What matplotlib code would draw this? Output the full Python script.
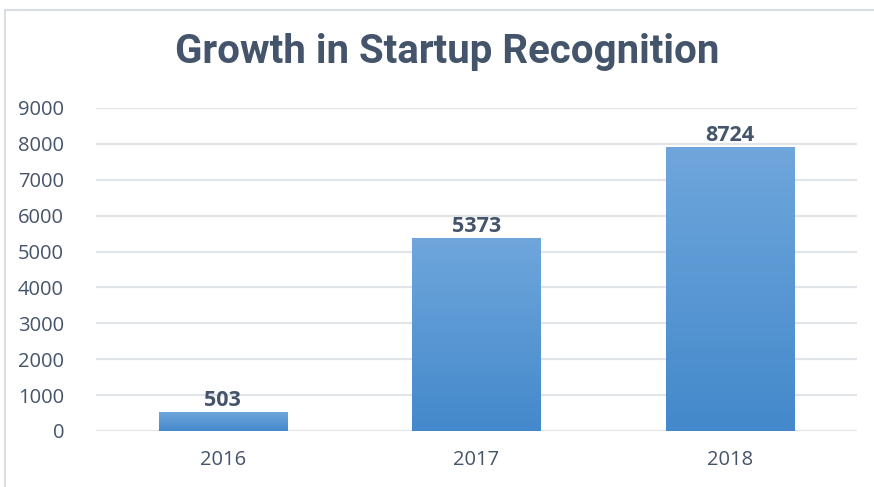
import matplotlib
matplotlib.use("Agg")
import matplotlib.pyplot as plt
import numpy as np
from matplotlib.patches import Rectangle
from matplotlib.colors import LinearSegmentedColormap

years = ["2016", "2017", "2018"]
bar_heights = [520, 5373, 7910]   # heights as drawn in the picture
bar_labels = ["503", "5373", "8724"]  # labels as printed
yticks = [0, 1000, 2000, 3000, 4000, 5000, 6000, 7000, 8000, 9000]

W, H = 874, 487
fig = plt.figure(figsize=(W / 100, H / 100), dpi=100)
fig.patch.set_facecolor("white")

# outer frame
fig.add_artist(Rectangle((5 / W, -0.1), 1.2, (H - 10) / H + 0.1, transform=fig.transFigure,
                         fill=False, edgecolor="#D9DEE6", linewidth=1.5))

ax = fig.add_axes([96 / W, (H - 431) / H, (857 - 96) / W, (431 - 108) / H])
ax.set_xlim(-0.5, 2.5)
ax.set_ylim(0, 9000)
for s in ax.spines.values():
    s.set_visible(False)
ax.set_yticks(yticks)
ax.set_yticklabels([str(v) for v in yticks])
ax.yaxis.grid(True, color="#E1E4E8", linewidth=1.6)
ax.set_axisbelow(True)
ax.tick_params(axis="both", length=0, labelsize=14.5, labelcolor="#44546A")
ax.tick_params(axis="y", pad=23)
ax.tick_params(axis="x", pad=14)
ax.set_xticks(range(len(years)))
ax.set_xticklabels(years)
for lab in ax.get_xticklabels() + ax.get_yticklabels():
    lab.set_fontfamily(["Open Sans", "DejaVu Sans"])

x = np.arange(len(years))
bars = ax.bar(x, bar_heights, width=0.505, color="#5A9BD8", zorder=2)

# gradient fill
grad = np.linspace(0, 1, 256).reshape(-1, 1)
cmap = LinearSegmentedColormap.from_list("g", ["#4389CB", "#6FA6DC"])
for b in bars:
    x0, y0, w, h = b.get_x(), b.get_y(), b.get_width(), b.get_height()
    im = ax.imshow(grad, extent=[x0, x0 + w, y0, y0 + h], origin="lower", aspect="auto",
                   cmap=cmap, zorder=3)
    im.set_clip_path(b)

for xi, h, lab in zip(x, bar_heights, bar_labels):
    ax.text(xi, h + 30, lab, ha="center", va="bottom", fontsize=15.5, fontweight="bold",
            color="#44546A", family=["Open Sans", "DejaVu Sans"], zorder=4)

fig.text(447 / W, (H - 52) / H, "Growth in Startup Recognition", ha="center", va="center",
         fontsize=29, fontweight="bold", color="#44546A",
         family=["Roboto", "DejaVu Sans"])

fig.savefig("out.png", dpi=100)
